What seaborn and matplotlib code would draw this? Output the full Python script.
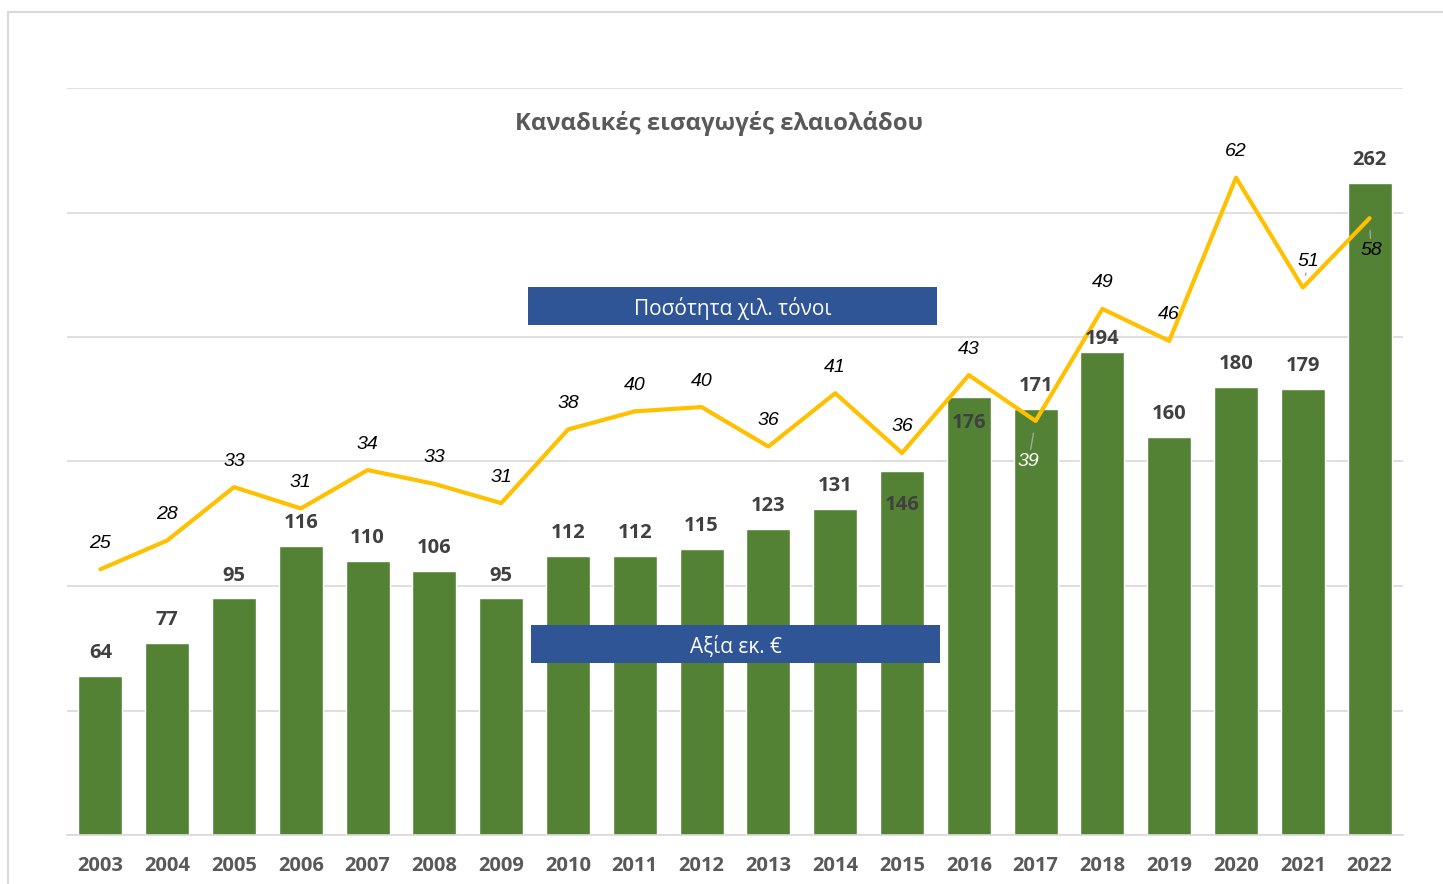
import numpy as np
import pandas as pd
import matplotlib
matplotlib.use("Agg")
import matplotlib.pyplot as plt
from matplotlib.lines import Line2D
from matplotlib.patches import Rectangle
import seaborn as sns

# ---- data ----
years = [str(y) for y in range(2003, 2023)]
value_meur = [64, 77, 95, 116, 110, 106, 95, 112, 112, 115, 123, 131, 146, 176, 171, 194, 160, 180, 179, 262]
quantity_kt = [24.9, 27.6, 32.6, 30.6, 34.2, 32.9, 31.1, 38.0, 39.7, 40.1, 36.4, 41.4, 35.8, 43.1, 38.8,
               49.3, 46.3, 61.6, 51.3, 57.8]
title = "Καναδικές εισαγωγές ελαιολάδου"
box_quantity = "Ποσότητα χιλ. τόνοι"
box_value = "Αξία εκ. €"

df = pd.DataFrame({"year": years, "value": value_meur, "qty": quantity_kt})
df["pos"] = np.arange(len(df))

sns.set_theme(style="white")
plt.rcParams["font.family"] = ["Open Sans", "DejaVu Sans"]

W, H = 1443, 884
fig = plt.figure(figsize=(W / 100, H / 100), dpi=100)
ax = fig.add_axes([67 / W, 1 - 835 / H, (1403 - 67) / W, (835 - 88) / H])

GREEN = "#548235"
GOLD = "#FFC000"
GRID = "#D9D9D9"
NUMFONT = ["Open Sans", "DejaVu Sans"]

sns.barplot(data=df, x="year", y="value", color=GREEN, width=0.66, saturation=1, ax=ax, zorder=2)
ax.set_ylim(0, 300)
ax.set_yticks(np.arange(0, 301, 50))
ax.set_xlim(-0.5, len(df) - 0.5)
ax.yaxis.grid(True, color=GRID, linewidth=1.2, zorder=0)
ax.set_axisbelow(True)
for s in ["left", "right", "top"]:
    ax.spines[s].set_visible(False)
ax.spines["bottom"].set_color(GRID)
ax.spines["bottom"].set_linewidth(1.2)
ax.set_xlabel("")
ax.set_ylabel("")

# line on secondary axis
ax2 = ax.twinx()
sns.lineplot(data=df, x="pos", y="qty", color=GOLD, linewidth=3, ax=ax2, zorder=3)
ax2.set_ylim(0, 70)
ax2.set_xlim(-0.5, len(df) - 0.5)
ax2.axis("off")

# bar labels (drawn on top of the line)
offsets = {"2015": -24, "2016": -19, "2018": 9.5}
for p, y, v in zip(df["pos"], df["year"], df["value"]):
    off = offsets.get(y, 16.5)
    ax2.annotate(f"{v:.0f}", (p, v), xycoords=ax.transData, xytext=(0, off), textcoords="offset points",
                 ha="center", va="center", fontsize=14.5, fontweight="bold", color="#404040",
                 family=NUMFONT, zorder=5)

ax.tick_params(axis="y", left=False, right=False, labelleft=False, length=0)
ax.tick_params(axis="x", bottom=False, length=0, pad=15)
ax.set_xticks(df["pos"])
ax.set_xticklabels(df["year"], fontweight="bold", color="#595959", fontsize=14.5, family=NUMFONT)

special = {
    "2017": ((-5, -29), "white", True),
    "2021": ((4, 19), "black", True),
    "2022": ((1, -23), "black", True),
}
for p, y, q in zip(df["pos"], df["year"], df["qty"]):
    if y in special:
        off, col, leader = special[y]
    else:
        off, col, leader = (0, 18.7), "black", False
    ap = None
    if leader:
        ap = dict(arrowstyle="-", color="#A6A6A6", lw=1, shrinkA=0, shrinkB=9)
    ax2.annotate(f"{q:.0f}", (p, q), xytext=off, textcoords="offset points",
                 ha="center", va="center", fontsize=14, fontstyle="italic",
                 family=["Liberation Sans", "DejaVu Sans"], color=col, arrowprops=ap, zorder=6)

# title
fig.text(719 / W, 1 - 124 / H, title, ha="center", va="center", fontsize=17.2, fontweight="bold",
         color="#595959", family=["Open Sans", "DejaVu Sans"])

# blue label boxes
BLUE = "#2F5597"
for (x0, y0, x1, y1), txt in [((528, 287, 937, 325), box_quantity), ((531, 625, 940, 663), box_value)]:
    fig.add_artist(Rectangle((x0 / W, 1 - y1 / H), (x1 - x0) / W, (y1 - y0) / H,
                             transform=fig.transFigure, facecolor=BLUE, edgecolor="none", zorder=10))
    fig.text((x0 + x1) / 2 / W, 1 - ((y0 + y1) / 2 + 3) / H, txt, ha="center", va="center", color="white",
             fontsize=15, family=["Open Sans", "DejaVu Sans"], zorder=11)

# chart frame
fig.add_artist(Line2D([8 / W, 8 / W], [1 - 12 / H, 0], transform=fig.transFigure, color=GRID, lw=1.5))
fig.add_artist(Line2D([8 / W, 1], [1 - 12 / H, 1 - 12 / H], transform=fig.transFigure, color=GRID, lw=1.5))

for lab in ax.get_xticklabels():
    lab.set_fontweight("bold")
    lab.set_color("#595959")

fig.savefig("out.png", dpi=100, facecolor="white")
